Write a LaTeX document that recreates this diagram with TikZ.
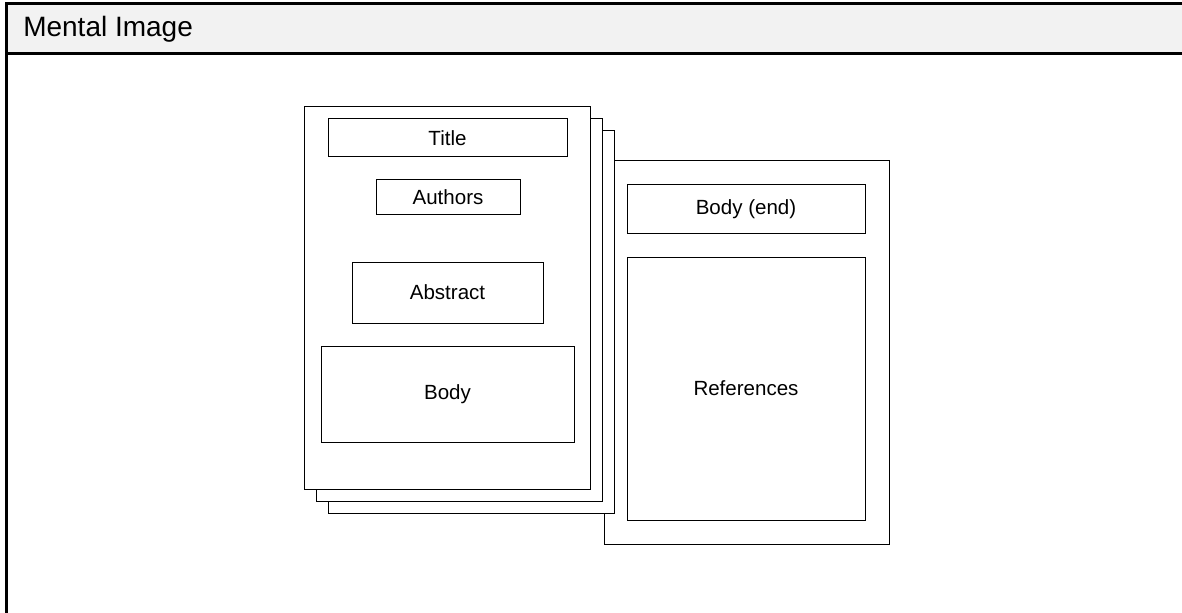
\documentclass[tikz,border=0pt]{standalone}
\usepackage{fontspec}
\setmainfont{Liberation Sans}
\begin{document}
\begin{tikzpicture}[x=0.75pt,y=-0.75pt,
	box/.style 2 args={draw,line width=0.75pt,fill=white,inner sep=0pt,
		minimum width=#1*0.75pt,minimum height=#2*0.75pt,font=\fontsize{15.4}{18}\selectfont},
	page/.style={box={286}{382}}]
\useasboundingbox (0,0) rectangle (1182,613);
% header strip and frame
\fill[color=black!5] (6.5,4) rectangle (1182,54);
\draw[line width=2.25pt] (1182,4) -| (6.5,613);
\draw[line width=2.25pt] (6.5,54) -- (1182,54);
\node[anchor=base west,inner sep=0pt,font=\fontsize{21}{25}\selectfont] (head) at (23,37) {Mental Image};
% pages, back to front
\node[box={285}{383}] (last) at (746.5,352.5) {};
\foreach \n/\o in {3/24,2/12}{
	\node[page] (p\n) at ({447.5+\o},{298+\o}) {};}
\node[page] (first) at (447.5,298) {};
% first page
\node[box={239}{38}] (title) at (447.5,138) {Title};
\node[box={144}{35}] (authors) at (448,197.5) {Authors};
\node[box={191}{61}] (abstract) at (447.5,292.5) {Abstract};
\node[box={253}{96}] (body) at (447.5,394.5) {Body};
% last page
\node[box={238}{49}] (bodyend) at (746,209.5) {Body (end)};
\node[box={238}{263}] (refs) at (746,388.5) {References};
\end{tikzpicture}
\end{document}
